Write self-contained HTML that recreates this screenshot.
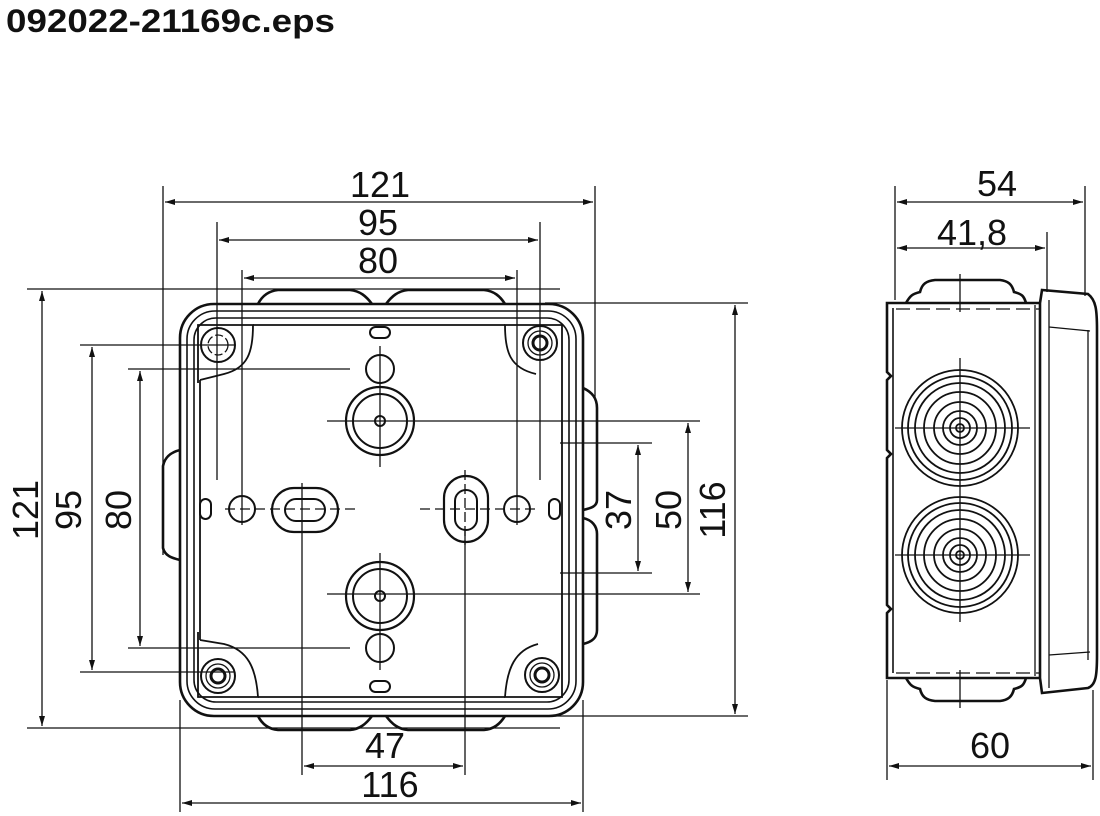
<!DOCTYPE html>
<html><head><meta charset="utf-8"><style>html,body{margin:0;padding:0;background:#fff}svg{display:block}</style></head><body>
<svg width="1100" height="816" viewBox="0 0 1100 816" xmlns="http://www.w3.org/2000/svg" font-family="Liberation Sans, sans-serif">
<defs>
<marker id="a" viewBox="0 0 10 6" refX="10" refY="3" markerWidth="10" markerHeight="6" orient="auto-start-reverse" markerUnits="userSpaceOnUse"><path d="M0,0L10,3L0,6z" fill="#111"/></marker>
</defs>
<text x="6" y="32" font-size="32" font-weight="bold" textLength="329" lengthAdjust="spacingAndGlyphs" fill="#111">092022-21169c.eps</text>
<g stroke="#111" stroke-width="1.3" fill="none">
<line x1="163" y1="186" x2="163" y2="555"/>
<line x1="595" y1="186" x2="595" y2="400"/>
<line x1="217" y1="222" x2="217" y2="480"/>
<line x1="540" y1="222" x2="540" y2="480"/>
<line x1="242" y1="270" x2="242" y2="480"/>
<line x1="517" y1="270" x2="517" y2="480"/>
<line x1="27" y1="289" x2="560" y2="289"/>
<line x1="27" y1="728" x2="560" y2="728"/>
<line x1="80" y1="345" x2="235" y2="345"/>
<line x1="80" y1="672" x2="235" y2="672"/>
<line x1="128" y1="369" x2="350" y2="369"/>
<line x1="128" y1="648" x2="350" y2="648"/>
<line x1="545" y1="303" x2="748" y2="303"/>
<line x1="545" y1="716" x2="748" y2="716"/>
<line x1="327" y1="421" x2="700" y2="421"/>
<line x1="327" y1="594" x2="700" y2="594"/>
<line x1="560" y1="443" x2="652" y2="443"/>
<line x1="560" y1="573" x2="652" y2="573"/>
<line x1="302" y1="530" x2="302" y2="775"/>
<line x1="465" y1="530" x2="465" y2="775"/>
<line x1="180" y1="700" x2="180" y2="812"/>
<line x1="583" y1="700" x2="583" y2="812"/>
<line x1="165" y1="202" x2="593" y2="202" marker-start="url(#a)" marker-end="url(#a)"/>
<line x1="219" y1="240" x2="538" y2="240" marker-start="url(#a)" marker-end="url(#a)"/>
<line x1="244" y1="278" x2="515" y2="278" marker-start="url(#a)" marker-end="url(#a)"/>
<line x1="42" y1="291" x2="42" y2="726" marker-start="url(#a)" marker-end="url(#a)"/>
<line x1="92" y1="347" x2="92" y2="670" marker-start="url(#a)" marker-end="url(#a)"/>
<line x1="140" y1="371" x2="140" y2="646" marker-start="url(#a)" marker-end="url(#a)"/>
<line x1="735" y1="305" x2="735" y2="714" marker-start="url(#a)" marker-end="url(#a)"/>
<line x1="688" y1="423" x2="688" y2="592" marker-start="url(#a)" marker-end="url(#a)"/>
<line x1="638" y1="445" x2="638" y2="571" marker-start="url(#a)" marker-end="url(#a)"/>
<line x1="304" y1="766" x2="463" y2="766" marker-start="url(#a)" marker-end="url(#a)"/>
<line x1="182" y1="803" x2="581" y2="803" marker-start="url(#a)" marker-end="url(#a)"/>
<g stroke-width="2.6">
<rect x="180" y="304" width="403" height="412" rx="34"/>
<path d="M258,304 C262,296 268,291 278,290 L350,290 C360,291 366,296 372,304 M386,304 C392,296 398,291 408,290 L484,290 C494,291 500,296 505,304"/>
<path d="M258,716 C262,724 268,729 278,730 L350,730 C360,729 366,724 372,716 M386,716 C392,724 398,729 408,730 L484,730 C494,729 500,724 505,716"/>
<path d="M180,450 C172,452 165,456 163,466 L163,548 C165,556 172,558 180,560"/>
<path d="M583,388 C592,392 597,398 597,408 L597,500 C597,506 592,508 583,510 M583,518 C592,520 597,526 597,534 L597,630 C597,638 592,642 583,644"/>
</g>
<rect x="187" y="311" width="389" height="398" rx="28" stroke-width="1.6"/>
<rect x="194" y="318" width="375" height="384" rx="22" stroke-width="1.6"/>
<path d="M198,383 L198,325 L253,325 C253,352 248,368 224,374 L200,380 M562,383 L562,325 L505,325 C505,352 510,368 536,374 M198,632 L198,697 L258,697 C256,668 248,650 224,644 L200,640 M562,632 L562,697 L505,697 C507,668 515,650 538,644" stroke-width="1.8"/>
<line x1="200" y1="380" x2="200" y2="640" stroke-width="1.8"/>
<line x1="562" y1="383" x2="562" y2="632" stroke-width="1.8"/>
<line x1="253" y1="325" x2="505" y2="325" stroke-width="1.8"/>
<line x1="258" y1="697" x2="505" y2="697" stroke-width="1.8"/>
<circle cx="218" cy="345" r="17" stroke-width="2"/><circle cx="218" cy="345" r="10" stroke-dasharray="8 3"/>
<circle cx="540" cy="343" r="17" stroke-width="2"/><circle cx="540" cy="343" r="12"/><circle cx="540" cy="343" r="7" stroke-width="3"/>
<circle cx="218" cy="676" r="17" stroke-width="2"/><circle cx="218" cy="676" r="12"/><circle cx="218" cy="676" r="7" stroke-width="3"/>
<circle cx="542" cy="675" r="17" stroke-width="2"/><circle cx="542" cy="675" r="12"/><circle cx="542" cy="675" r="7" stroke-width="3"/>
<circle cx="380" cy="369" r="14" stroke-width="2"/>
<circle cx="380" cy="421" r="34" stroke-width="2.2"/><circle cx="380" cy="421" r="27" stroke-width="2"/><circle cx="380" cy="421" r="5" stroke-width="2"/>
<circle cx="380" cy="596" r="34" stroke-width="2.2"/><circle cx="380" cy="596" r="27" stroke-width="2"/><circle cx="380" cy="596" r="5" stroke-width="2"/>
<circle cx="380" cy="648" r="14" stroke-width="2"/>
<line x1="380" y1="346" x2="380" y2="467"/><line x1="380" y1="553" x2="380" y2="670"/>
<circle cx="242" cy="509" r="13" stroke-width="2"/><circle cx="517" cy="509" r="13" stroke-width="2"/>
<rect x="272" y="488" width="66" height="44" rx="22" stroke-width="2.2"/><rect x="285" y="499" width="40" height="22" rx="11" stroke-width="2"/>
<rect x="444" y="476" width="44" height="66" rx="22" stroke-width="2.2"/><rect x="455" y="490" width="22" height="40" rx="11" stroke-width="2"/>
<rect x="200" y="499" width="11" height="20" rx="5.5" stroke-width="2"/><rect x="549" y="499" width="11" height="20" rx="5.5" stroke-width="2"/>
<rect x="370" y="327" width="20" height="11" rx="5.5" stroke-width="2"/><rect x="370" y="681" width="20" height="11" rx="5.5" stroke-width="2"/>
<line x1="225" y1="509" x2="355" y2="509" stroke-dasharray="10 5"/>
<line x1="420" y1="509" x2="535" y2="509" stroke-dasharray="10 5"/>
<line x1="242" y1="480" x2="242" y2="525"/><line x1="517" y1="480" x2="517" y2="525"/>
<line x1="302" y1="483" x2="302" y2="530"/><line x1="465" y1="470" x2="465" y2="545" stroke-dasharray="10 4"/>
<!-- side view -->
<line x1="887" y1="680" x2="887" y2="780"/>
<line x1="1093" y1="690" x2="1093" y2="780"/>
<line x1="895" y1="186" x2="895" y2="300"/>
<line x1="1085" y1="186" x2="1085" y2="296"/>
<line x1="1047" y1="232" x2="1047" y2="292"/>
<line x1="897" y1="202" x2="1083" y2="202" marker-start="url(#a)" marker-end="url(#a)"/>
<line x1="897" y1="248" x2="1045" y2="248" marker-start="url(#a)" marker-end="url(#a)"/>
<line x1="889" y1="766" x2="1091" y2="766" marker-start="url(#a)" marker-end="url(#a)"/>
<g stroke-width="2.6">
<path d="M1040,303 L887,303 L887,372 L891,376 L887,380 L887,450 L891,454 L887,458 L887,605 L891,609 L887,613 L887,678 L1040,678"/>
<path d="M906,303 C910,296 912,294 920,292 C922,284 926,281 935,280 L1000,280 C1008,281 1012,284 1014,292 C1022,294 1024,296 1026,303"/>
<path d="M906,678 C910,685 912,687 920,689 C922,697 926,700 935,701 L1000,701 C1008,700 1012,697 1014,689 C1022,687 1024,685 1026,678"/>
<path d="M1040,303 L1042,290 L1088,294 C1096,300 1097,310 1097,330 L1097,655 C1097,675 1096,685 1088,688 L1042,693 L1040,678 Z"/>
</g>
<line x1="893" y1="308" x2="893" y2="673" stroke-width="1.6"/>
<line x1="896" y1="309" x2="1040" y2="309" stroke-dasharray="14 6"/>
<line x1="896" y1="673" x2="1040" y2="673" stroke-dasharray="14 6"/>
<line x1="1035" y1="305" x2="1035" y2="676"/>
<line x1="1049" y1="300" x2="1049" y2="688"/>
<line x1="1088" y1="330" x2="1088" y2="660"/>
<line x1="1049" y1="327" x2="1090" y2="331"/><line x1="1049" y1="655" x2="1090" y2="652"/>
<g stroke-width="1.8">
<circle cx="960" cy="428" r="58"/><circle cx="960" cy="428" r="52"/><circle cx="960" cy="428" r="45"/><circle cx="960" cy="428" r="36"/><circle cx="960" cy="428" r="26"/><circle cx="960" cy="428" r="17"/><circle cx="960" cy="428" r="10"/><circle cx="960" cy="428" r="4"/>
<circle cx="960" cy="555" r="58"/><circle cx="960" cy="555" r="52"/><circle cx="960" cy="555" r="45"/><circle cx="960" cy="555" r="36"/><circle cx="960" cy="555" r="26"/><circle cx="960" cy="555" r="17"/><circle cx="960" cy="555" r="10"/><circle cx="960" cy="555" r="4"/>
</g>
<line x1="960" y1="274" x2="960" y2="312"/><line x1="960" y1="358" x2="960" y2="622"/><line x1="960" y1="670" x2="960" y2="708"/>
<line x1="895" y1="428" x2="1030" y2="428"/><line x1="895" y1="555" x2="1030" y2="555"/>
</g>
<g font-size="36" fill="#111" text-anchor="middle">
<text x="380" y="197">121</text>
<text x="378" y="235">95</text>
<text x="378" y="273">80</text>
<text x="385" y="758">47</text>
<text x="390" y="797">116</text>
<text x="997" y="196">54</text>
<text x="972" y="245">41,8</text>
<text x="990" y="758">60</text>
<text transform="translate(38,510) rotate(-90)">121</text>
<text transform="translate(81,510) rotate(-90)">95</text>
<text transform="translate(131,510) rotate(-90)">80</text>
<text transform="translate(631,510) rotate(-90)">37</text>
<text transform="translate(681,510) rotate(-90)">50</text>
<text transform="translate(725,510) rotate(-90)">116</text>
</g>
</svg>
</body></html>
